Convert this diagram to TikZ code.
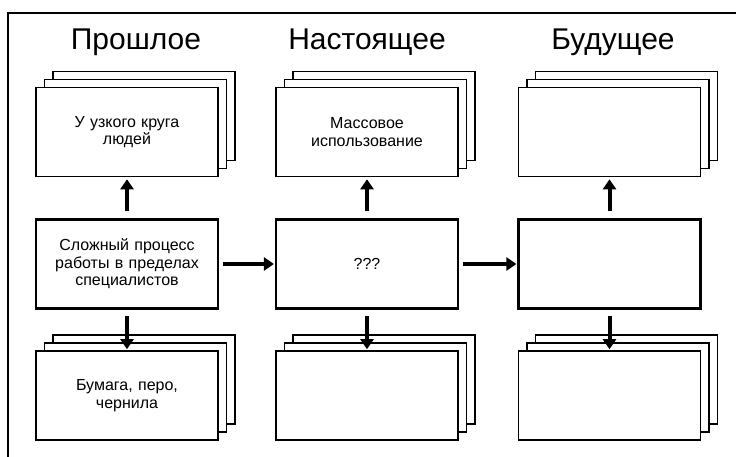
\documentclass[tikz,border=0pt]{standalone}
\usepackage{fontspec}
\setmainfont{Liberation Sans}
\usetikzlibrary{arrows.meta}
\begin{document}
\begin{tikzpicture}[x=1pt,y=-1pt,
  backbox/.style={draw, fill=white, line width=1.1pt, minimum width=182pt, minimum height=89pt, inner sep=0pt},
  frontbox/.style={backbox, line width=1.6pt, font=\fontsize{16}{17.5}\selectfont, align=center, text width=172pt},
  midbox/.style={frontbox, line width=2.2pt},
  coltitle/.style={font=\fontsize{30}{34}\selectfont},
  bigarrow/.style={line width=4pt, -{Triangle[length=10pt,width=13pt]}}]
\useasboundingbox (0,0) rectangle (736,457);
\draw[line width=1.5pt] (8,457) -- (8,13) -- (736,13);

\node[coltitle] (h1) at (136,42) {Прошлое};
\node[coltitle] (h2) at (367,42) {Настоящее};
\node[coltitle] (h3) at (613,42) {Будущее};

% top stacks
\node[backbox] (t1c) at (144,116) {};
\node[backbox] (t1b) at (135.5,124) {};
\node[frontbox] (t1) at (127,132) {У узкого круга\\людей};
\node[backbox] (t2c) at (384,116) {};
\node[backbox] (t2b) at (375.5,124) {};
\node[frontbox] (t2) at (367,132) {Массовое\\использование};
\node[backbox] (t3c) at (626.5,116) {};
\node[backbox] (t3b) at (618,124) {};
\node[frontbox] (t3) at (609.5,132) {};

% middle row
\node[midbox] (m1) at (127,264) {Сложный процесс\\работы в пределах\\специалистов};
\node[midbox] (m2) at (367,264) {???};
\node[midbox] (m3) at (609.5,264) {};

% bottom stacks
\node[backbox] (b1c) at (144,379.5) {};
\node[backbox] (b1b) at (135.5,387.5) {};
\node[frontbox] (b1) at (127,395.5) {Бумага, перо,\\чернила};
\node[backbox] (b2c) at (384,379.5) {};
\node[backbox] (b2b) at (375.5,387.5) {};
\node[frontbox] (b2) at (367,395.5) {};
\node[backbox] (b3c) at (626.5,379.5) {};
\node[backbox] (b3b) at (618,387.5) {};
\node[frontbox] (b3) at (609.5,395.5) {};

% arrows
\foreach \i in {1,2,3}{
  \draw[bigarrow, shorten <=7pt, shorten >=2pt] (m\i.north) -- (t\i.south);
  \draw[bigarrow, shorten <=6pt, shorten >=1pt] (m\i.south) -- (b\i.north);
}
\draw[bigarrow, shorten <=4pt, shorten >=1pt] (m1.east) -- (m2.west);
\draw[bigarrow, shorten <=4pt, shorten >=1pt] (m2.east) -- (m3.west);
\end{tikzpicture}
\end{document}
